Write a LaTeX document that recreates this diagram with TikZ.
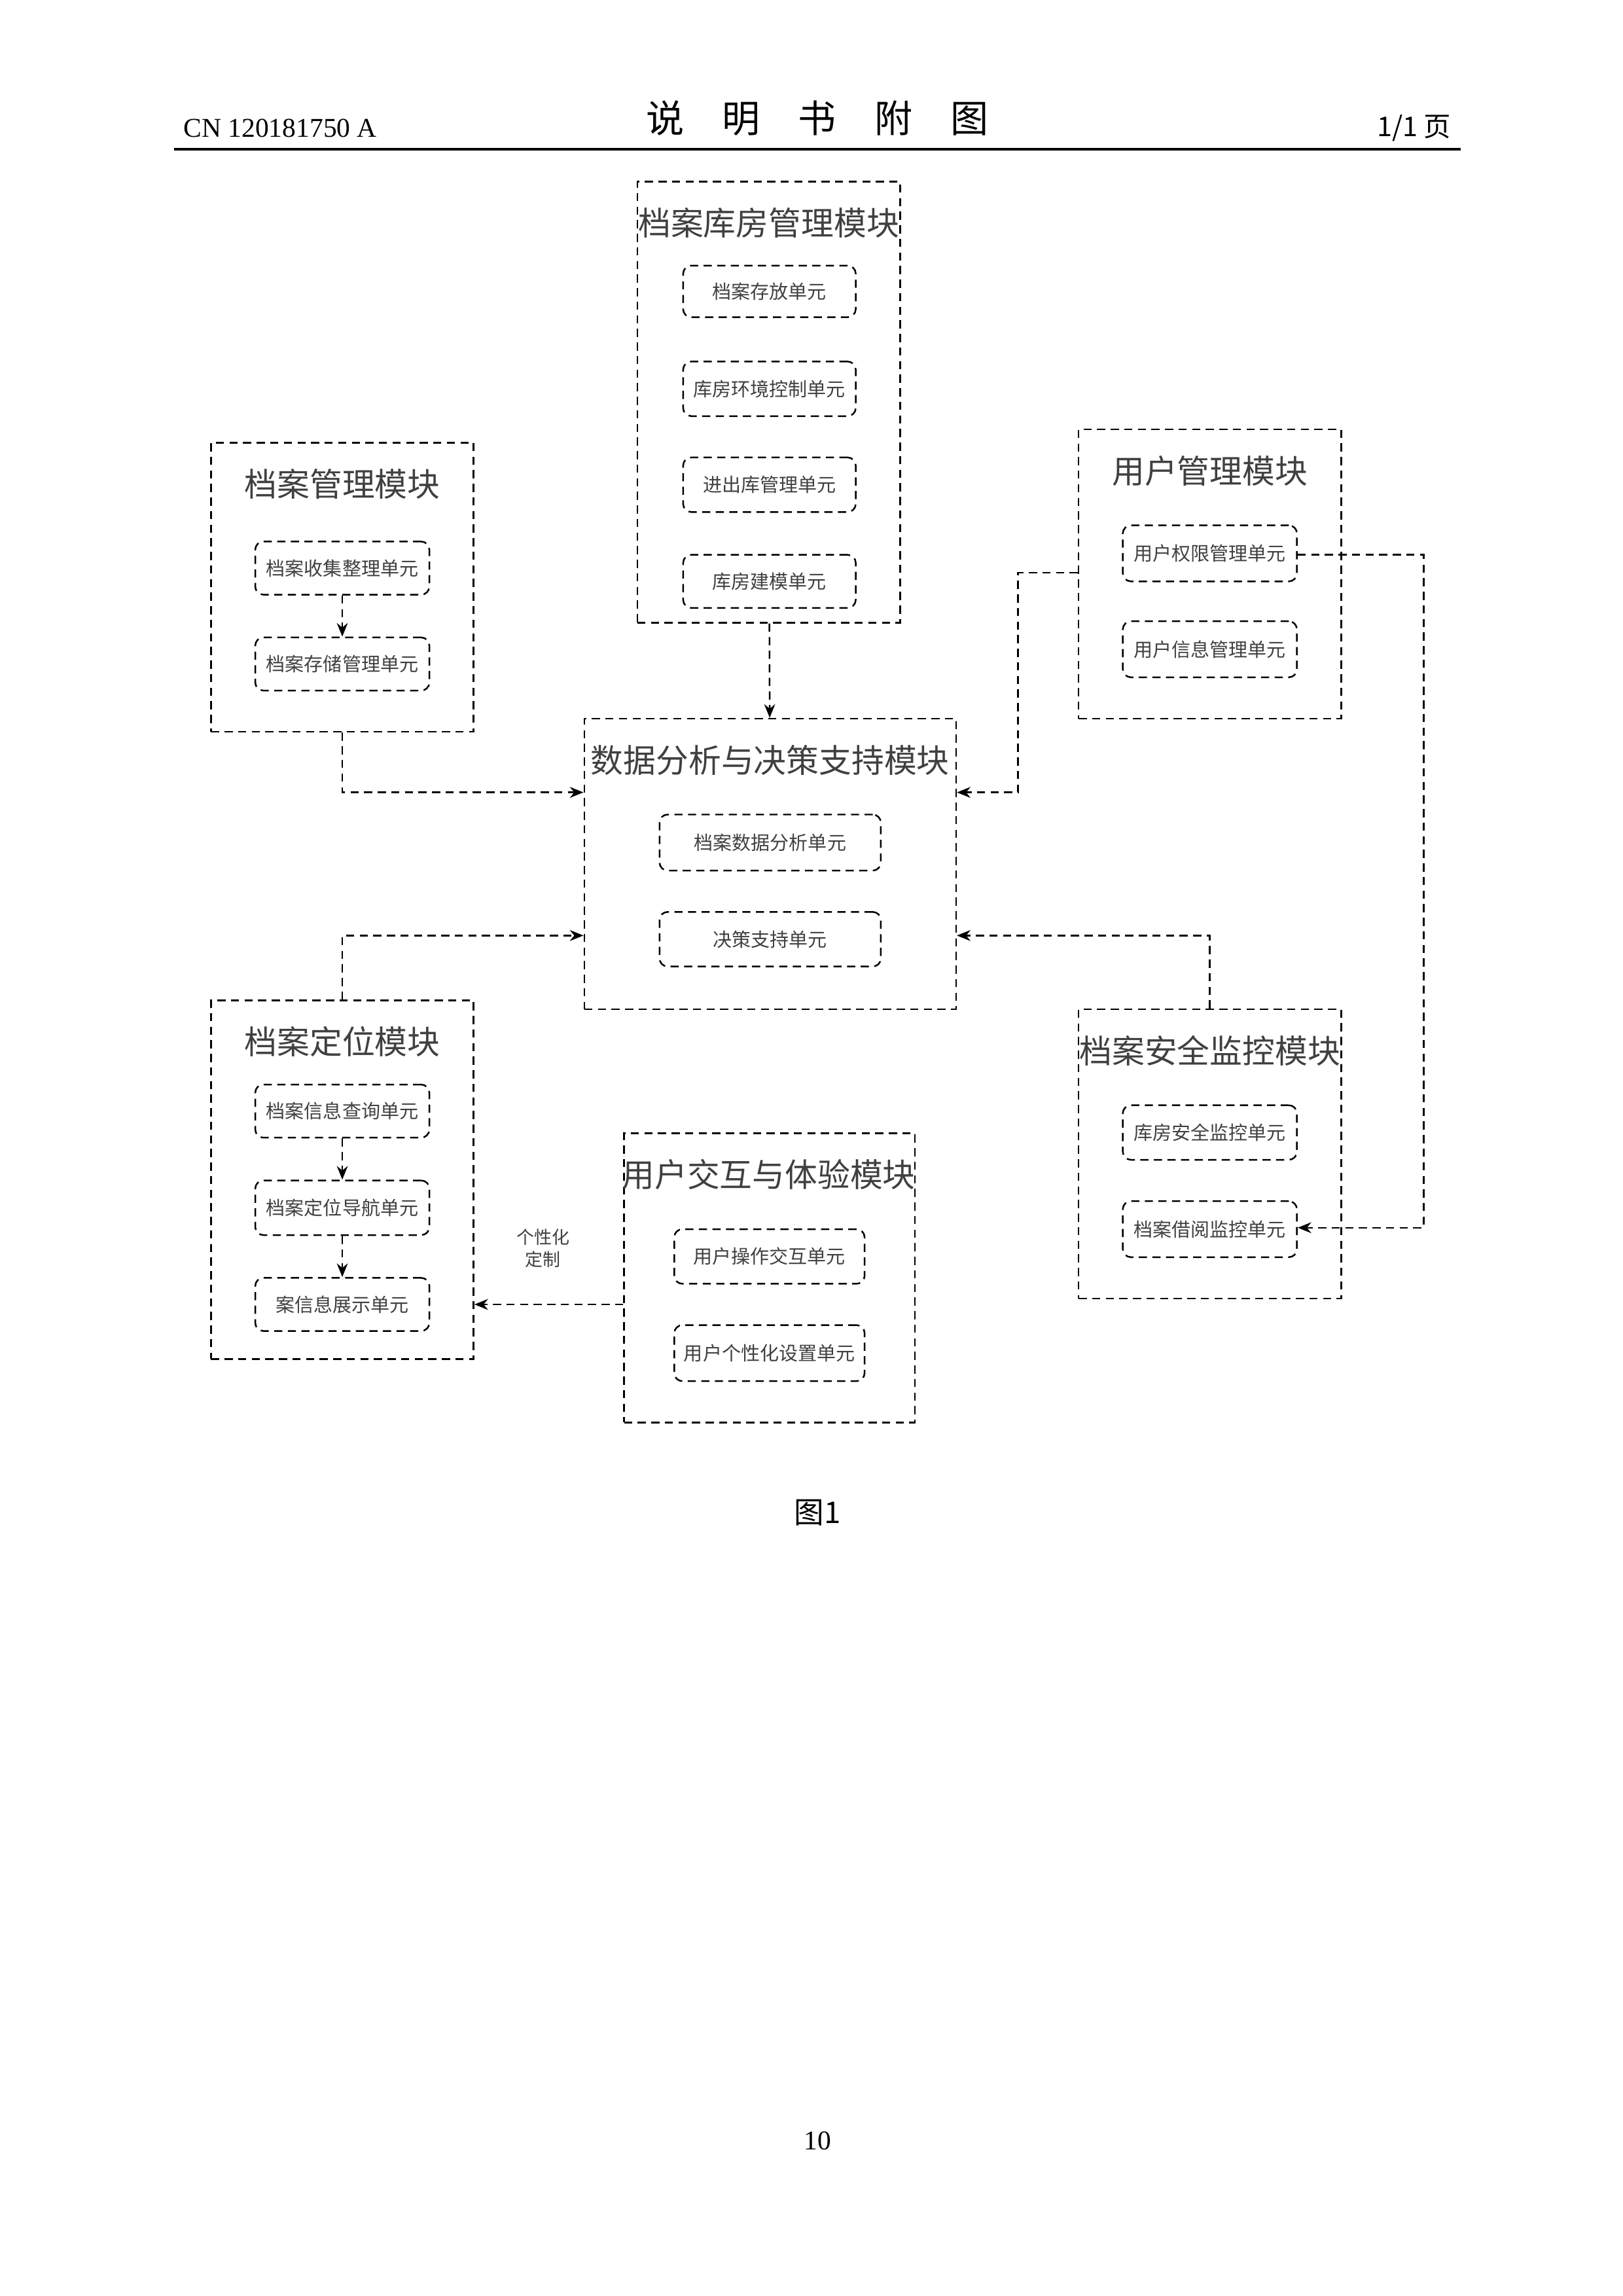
\documentclass[tikz,border=0pt]{standalone}
\usepackage{fontspec}
\setmainfont{Liberation Serif}
\newfontfamily\cjk{Noto Sans CJK SC}
\usetikzlibrary{fit,arrows.meta}
\begin{document}
\begin{tikzpicture}[x=0.19091mm,y=-0.19091mm]
        \tikzset{
            module/.style={draw,densely dashed,line width=0.6pt,inner sep=0pt},
            modtitle/.style={font=\cjk\fontsize{12}{14}\selectfont,text=black!75},
            unit/.style={draw,densely dashed,rounded corners=3pt,line width=0.6pt,inner sep=0pt},
            utext/.style={font=\cjk\fontsize{7}{8}\selectfont,text=black!75},
            link/.style={densely dashed,line width=0.6pt,-{Stealth[length=5pt,width=4pt]}}
        }
        \useasboundingbox (0,0) rectangle (1100,1556);
        % page head
        \node[anchor=west] (cn) at (118,87) {CN 120181750 A};
        \node[font=\cjk\fontsize{14}{16}\selectfont] (head) at (554,80) {说\quad 明\quad 书\quad 附\quad 图};
        \node[anchor=east,font=\cjk] (pg) at (990,87) {1/1 页};
        \draw[line width=1pt] (118,101) -- (990,101);
        % archive storage module
        \node[module,fit={(432,123) (610,422)}] (ks) {};
        \node[modtitle] (kst) at (521,151) {档案库房管理模块};
        \node[unit,fit={(463,180) (580,215)}] (ks1) {};
        \node[unit,fit={(463,245) (580,282)}] (ks2) {};
        \node[unit,fit={(463,310) (580,347)}] (ks3) {};
        \node[unit,fit={(463,376) (580,412)}] (ks4) {};
        \node[utext] at (ks1) {档案存放单元};
        \node[utext] at (ks2) {库房环境控制单元};
        \node[utext] at (ks3) {进出库管理单元};
        \node[utext] at (ks4) {库房建模单元};
        % archive management module
        \node[module,fit={(143,300) (321,496)}] (am) {};
        \node[modtitle] (amt) at (232,328) {档案管理模块};
        \node[unit,fit={(173,367) (291,403)}] (am1) {};
        \node[unit,fit={(173,432) (291,468)}] (am2) {};
        \node[utext] at (am1) {档案收集整理单元};
        \node[utext] at (am2) {档案存储管理单元};
        % user management module
        \node[module,fit={(731,291) (909,487)}] (um) {};
        \node[modtitle] (umt) at (820,319) {用户管理模块};
        \node[unit,fit={(761,356) (879,394)}] (um1) {};
        \node[unit,fit={(761,421) (879,459)}] (um2) {};
        \node[utext] at (um1) {用户权限管理单元};
        \node[utext] at (um2) {用户信息管理单元};
        % data analysis module
        \node[module,fit={(396,487) (648,684)}] (da) {};
        \node[modtitle] (dat) at (522,515) {数据分析与决策支持模块};
        \node[unit,fit={(447,552) (597,590)}] (da1) {};
        \node[unit,fit={(447,618) (597,655)}] (da2) {};
        \node[utext] at (da1) {档案数据分析单元};
        \node[utext] at (da2) {决策支持单元};
        % archive locating module
        \node[module,fit={(143,678) (321,921)}] (lo) {};
        \node[modtitle] (lot) at (232,706) {档案定位模块};
        \node[unit,fit={(173,735) (291,771)}] (lo1) {};
        \node[unit,fit={(173,800) (291,837)}] (lo2) {};
        \node[unit,fit={(173,866) (291,902)}] (lo3) {};
        \node[utext] at (lo1) {档案信息查询单元};
        \node[utext] at (lo2) {档案定位导航单元};
        \node[utext] at (lo3) {案信息展示单元};
        % interaction module
        \node[module,fit={(423,768) (620,964)}] (ia) {};
        \node[modtitle] (iat) at (521,796) {用户交互与体验模块};
        \node[unit,fit={(457,833) (586,870)}] (ia1) {};
        \node[unit,fit={(457,898) (586,936)}] (ia2) {};
        \node[utext] at (ia1) {用户操作交互单元};
        \node[utext] at (ia2) {用户个性化设置单元};
        % security module
        \node[module,fit={(731,684) (909,880)}] (sm) {};
        \node[modtitle] (smt) at (820,712) {档案安全监控模块};
        \node[unit,fit={(761,749) (879,786)}] (sm1) {};
        \node[unit,fit={(761,814) (879,852)}] (sm2) {};
        \node[utext] at (sm1) {库房安全监控单元};
        \node[utext] at (sm2) {档案借阅监控单元};
        % bends
        \coordinate (b1) at (232,537);
        \coordinate (b2) at (690,388);
        \coordinate (b3) at (690,537);
        \coordinate (b4) at (232,634);
        \coordinate (b5) at (820,634);
        \coordinate (b6) at (965,376);
        \coordinate (b7) at (965,832);
        % connectors
        \draw[link] (am1) -- (am2);
        \draw[link] (lo1) -- (lo2);
        \draw[link] (lo2) -- (lo3);
        \draw[link] (ks) -- (da);
        \draw[link] (am) -- (b1) -- (b1 -| da.west);
        \draw[link] (b2 -| um.west) -- (b2) -- (b3) -- (b3 -| da.east);
        \draw[link] (lo) -- (b4) -- (b4 -| da.west);
        \draw[link] (sm) -- (b5) -- (b5 -| da.east);
        \draw[link] (b6 -| um1.east) -- (b6) -- (b7) -- (b7 -| sm2.east);
        \draw[link] (ia.west |- lo3) -- (lo.east |- lo3);
        \node[font=\cjk\fontsize{6.5}{8}\selectfont,align=center,text=black!75] (pers) at (368,846) {个性化\\定制};
        % caption
        \node[font=\cjk\fontsize{11}{13}\selectfont] (cap) at (554,1025) {图1};
        \node (pno) at (554,1451) {10};
\end{tikzpicture}
\end{document}
